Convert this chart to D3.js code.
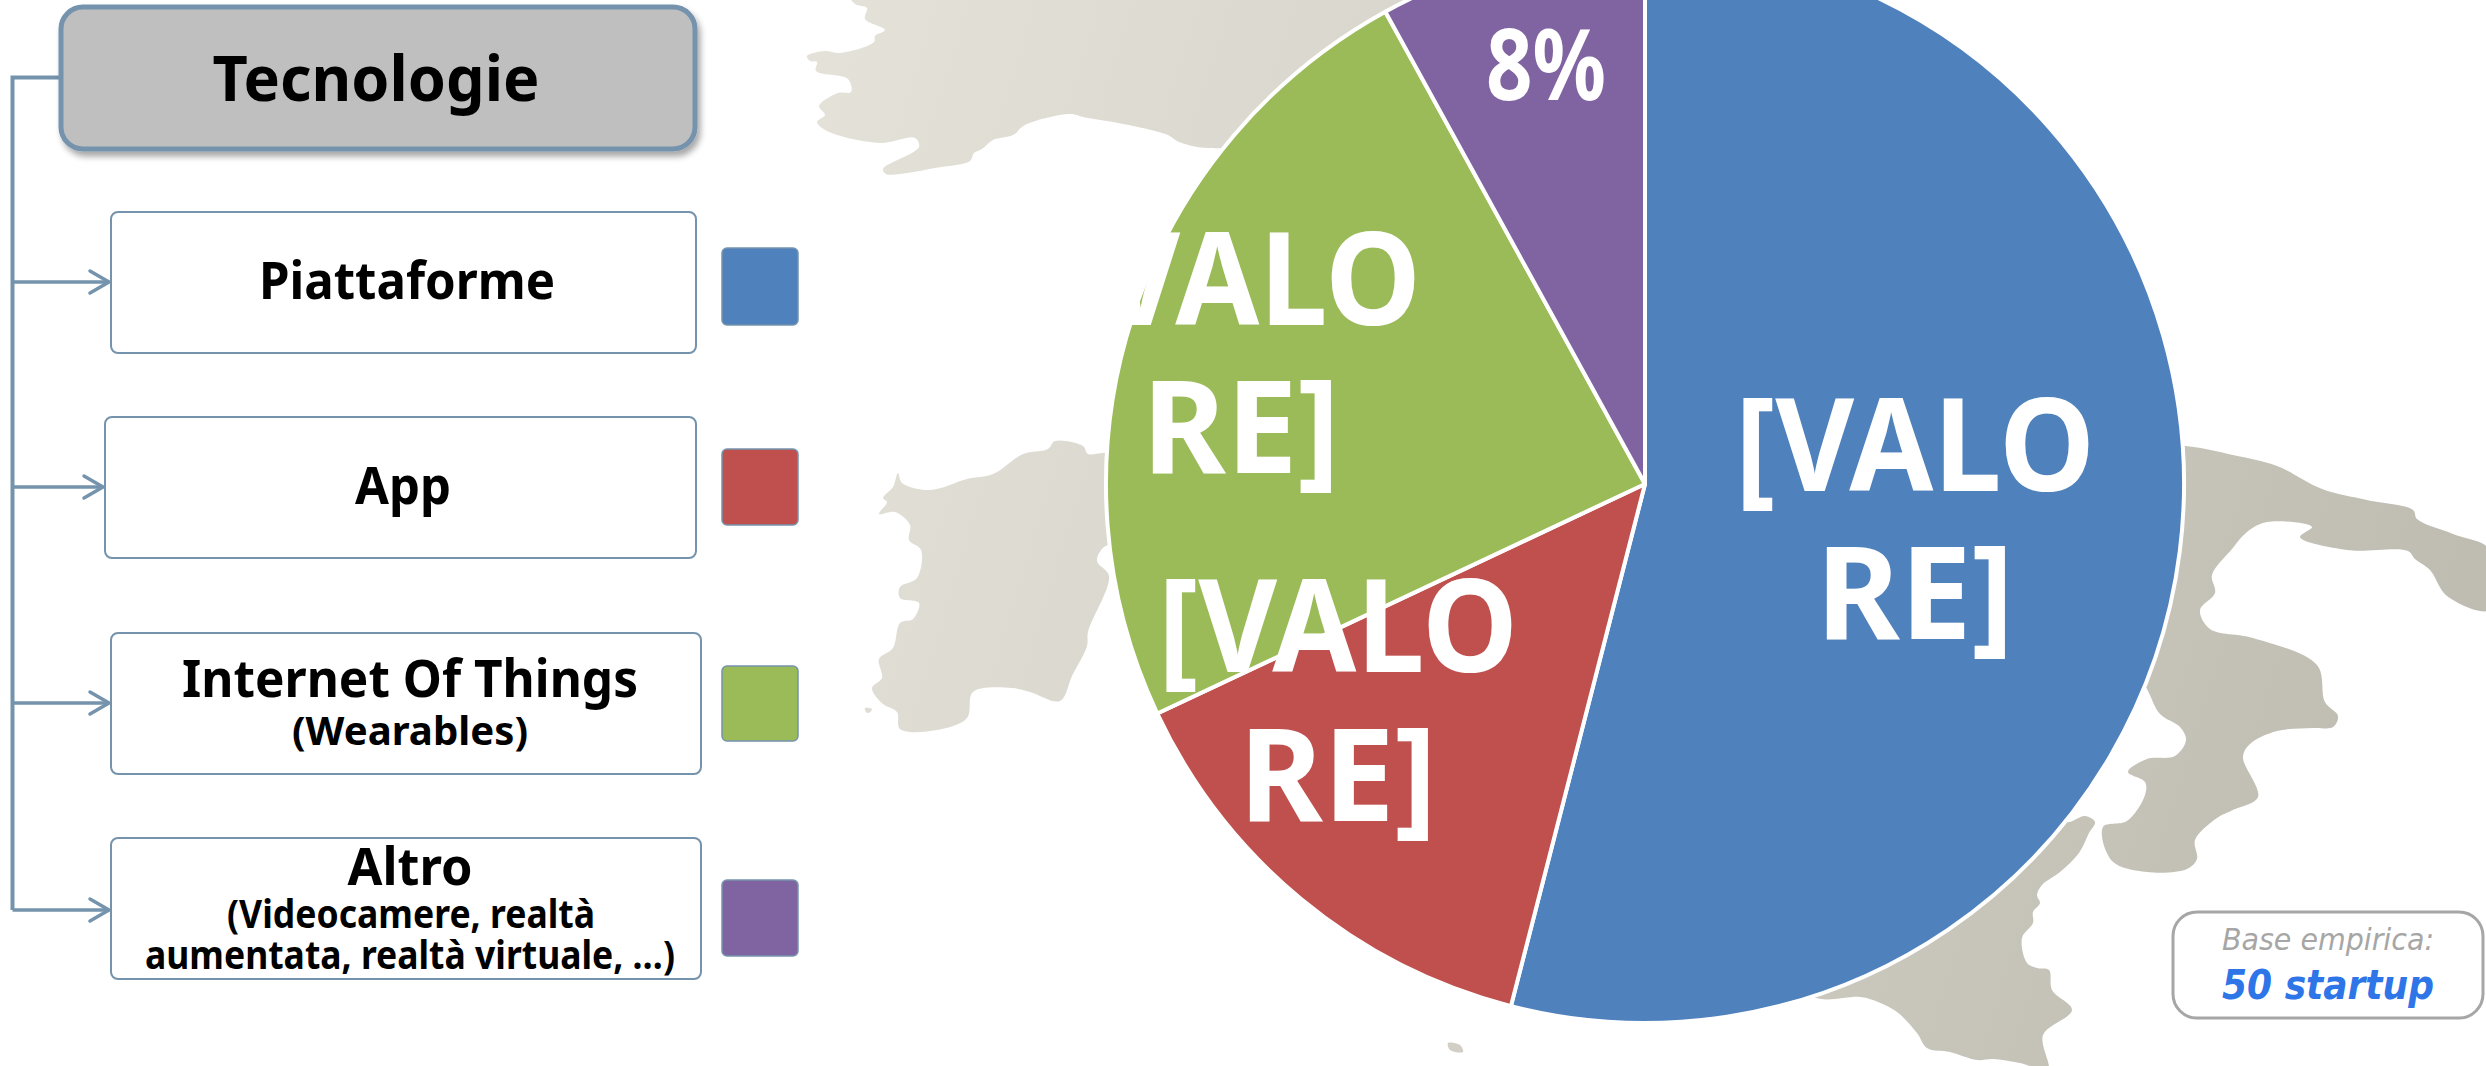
<!DOCTYPE html>
<html>
<head>
<meta charset="utf-8">
<script src="https://cdn.jsdelivr.net/npm/d3@7"></script>
<style>
    html, body { margin: 0; padding: 0; background: #fff; overflow: hidden; }
    svg { display: block; }
    text { font-family: "Noto Sans", sans-serif; }
</style>
</head>
<body>
<svg id="chart"></svg>
<script>
// valeurs du camembert
var categories = ["Piattaforme", "App", "Internet Of Things", "Altro"];
var values = [54, 14, 24, 8];
var colors = ["#4f81bd", "#c0504d", "#9bbb59", "#8064a2"];
var sliceLabels = [["[VALO", "RE]"], ["[VALO", "RE]"], ["[VALO", "RE]"], ["8%"]];
var title = "Tecnologie";
var subLabels = [[], [], ["(Wearables)"], ["(Videocamere, realtà", "aumentata, realtà virtuale, …)"]];

// fond de carte (contours)
var mapNorth = [[850,-5],[855,4],[867,8],[865,19],[885,30],[875,36],[874,42],[840,53],[825,51],[807,56],[810,61],[817,62],[816,71],[848,79],[851,92],[838,93],[819,106],[825,115],[817,122],[827,131],[880,143],[915,138],[919,147],[883,169],[886,174],[900,174],[935,168],[970,161],[974,153],[982,149],[993,140],[1013,135],[1025,125],[1070,114],[1083,117],[1118,123],[1133,126],[1168,135],[1177,141],[1197,147],[1212,148],[1222,148],[1400,100],[1400,-5]];
var mapSardinia = [[898,473],[902,483],[930,490],[967,479],[993,474],[1023,454],[1048,449],[1055,441],[1083,446],[1088,454],[1103,453],[1125,453],[1125,540],[1104,547],[1097,561],[1109,576],[1088,632],[1087,646],[1072,676],[1060,701],[1030,692],[1012,688],[973,692],[967,718],[937,730],[900,729],[897,712],[883,704],[872,688],[882,678],[879,659],[893,648],[900,623],[913,619],[919,603],[900,598],[900,587],[917,578],[921,550],[909,540],[910,525],[895,512],[879,514],[887,502],[883,498],[893,487]];
var mapSouth = [[2150,446],[2186,446],[2233,455],[2277,466],[2322,489],[2367,500],[2413,510],[2417,519],[2453,534],[2490,550],[2490,610],[2447,596],[2430,570],[2415,559],[2408,551],[2347,550],[2300,537],[2312,527],[2267,522],[2247,532],[2232,549],[2212,575],[2215,593],[2200,610],[2210,629],[2253,638],[2317,665],[2325,702],[2338,716],[2333,727],[2313,728],[2277,731],[2250,744],[2243,757],[2258,797],[2233,810],[2217,818],[2195,840],[2197,859],[2187,869],[2147,872],[2112,861],[2103,827],[2127,821],[2145,795],[2145,782],[2128,772],[2147,759],[2175,756],[2186,740],[2180,727],[2160,714],[2147,689],[2100,600]];
var mapSicily = [[2040,800],[2066,822],[2085,816],[2095,822],[2089,833],[2079,853],[2060,872],[2042,885],[2037,895],[2040,903],[2033,912],[2033,923],[2022,938],[2027,963],[2037,968],[2049,970],[2052,990],[2072,1010],[2043,1035],[2048,1070],[2020,1063],[1993,1059],[1977,1060],[1950,1052],[1927,1048],[1917,1033],[1897,1012],[1873,1000],[1860,997],[1813,997],[1780,960]];
var mapIslets = [[[1448,1043],[1460,1045],[1463,1052],[1450,1050]], [[865,708],[872,709],[869,713],[866,712]]];

// mise en page
var W = 2486, H = 1066;
var pieCenter = [1645, 484], pieRadius = 539;
var labelLayout = [
    {x: 1915, y: [491, 639], w: [360, 198], size: 130},
    {x: 1338, y: [672, 821], w: [360, 198], size: 130},
    {x: 1241, y: [325, 473], w: [360, 198], size: 130},
    {x: 1546, y: [100], w: [120], size: 98}
];
var boxes = [
    {x: 111, y: 212, x2: 696, y2: 353, arrow: 282, swatch: [248, 325]},
    {x: 105, y: 417, x2: 696, y2: 558, arrow: 487, swatch: [449, 525]},
    {x: 111, y: 633, x2: 701, y2: 774, arrow: 703, swatch: [666, 741]},
    {x: 111, y: 838, x2: 701, y2: 979, arrow: 910, swatch: [880, 956]}
];
var boxText = [
    {main: {x: 407, y: 299, w: 296}, sub: []},
    {main: {x: 403, y: 504, w: 96}, sub: []},
    {main: {x: 410, y: 697, w: 456}, sub: [{x: 410, y: 745, w: 236}]},
    {main: {x: 410, y: 885, w: 125}, sub: [{x: 411, y: 928, w: 368}, {x: 410, y: 969, w: 530}]}
];
var steel = "#7593ad";

var svg = d3.select("#chart").attr("width", W).attr("height", H);
var defs = svg.append("defs");

var grad = defs.append("linearGradient")
    .attr("id", "mapGrad")
    .attr("gradientUnits", "userSpaceOnUse")
    .attr("x1", 850).attr("y1", 0)
    .attr("x2", 2486).attr("y2", 500);
grad.append("stop").attr("offset", "0").attr("stop-color", "#e3e1d8");
grad.append("stop").attr("offset", "0.35").attr("stop-color", "#d8d6cc");
grad.append("stop").attr("offset", "1").attr("stop-color", "#bfbcb1");

var shadow = defs.append("filter").attr("id", "shadow")
    .attr("x", "-5%").attr("y", "-10%").attr("width", "110%").attr("height", "125%");
shadow.append("feDropShadow")
    .attr("dx", 3).attr("dy", 5).attr("stdDeviation", 3)
    .attr("flood-color", "#000").attr("flood-opacity", 0.35);

// carte
var line = d3.line().curve(d3.curveCatmullRomClosed.alpha(0.5));
svg.append("g").selectAll("path")
    .data([mapNorth, mapSardinia, mapSouth, mapSicily].concat(mapIslets))
    .enter().append("path")
    .attr("d", line)
    .attr("fill", "url(#mapGrad)");

// camembert
var pie = d3.pie().sort(null).value(function(d) { return d; });
var arc = d3.arc().innerRadius(0).outerRadius(pieRadius);
var color = d3.scaleOrdinal().domain(categories).range(colors);

var gPie = svg.append("g")
    .attr("transform", "translate(" + pieCenter[0] + "," + pieCenter[1] + ")");
gPie.selectAll("path")
    .data(pie(values))
    .enter().append("path")
    .attr("d", arc)
    .attr("fill", function(d, i) { return color(categories[i]); })
    .attr("stroke", "#fff")
    .attr("stroke-width", 4)
    .attr("stroke-linejoin", "round");

// étiquettes du camembert
function fitText(parent, str, x, y, w, size, weight, fill, style) {
    return parent.append("text")
        .attr("x", x)
        .attr("y", y)
        .attr("text-anchor", "middle")
        .attr("textLength", w)
        .attr("lengthAdjust", "spacingAndGlyphs")
        .attr("font-size", size)
        .attr("font-weight", weight)
        .attr("font-style", style || "normal")
        .attr("fill", fill)
        .text(str);
}

sliceLabels.forEach(function(lines, i) {
    var l = labelLayout[i];
    lines.forEach(function(s, j) {
        fitText(svg, s, l.x, l.y[j], l.w[j], l.size, 700, "#fff");
    });
});

// arbre de gauche
var tree = svg.append("g").attr("fill", "none").attr("stroke", steel);
tree.append("path")
    .attr("d", "M60,77.5H12.5V" + boxes[3].arrow)
    .attr("stroke-width", 4);

boxes.forEach(function(b) {
    tree.append("line")
        .attr("x1", 12.5).attr("x2", b.x - 2)
        .attr("y1", b.arrow).attr("y2", b.arrow)
        .attr("stroke-width", 3.5);
    tree.append("path")
        .attr("d", "M" + (b.x - 21) + "," + (b.arrow - 11) + "L" + (b.x - 2) + "," + b.arrow + "L" + (b.x - 21) + "," + (b.arrow + 11))
        .attr("stroke-width", 3.5)
        .attr("stroke-linecap", "round");
});

// titre
svg.append("rect")
    .attr("x", 61).attr("y", 7)
    .attr("width", 634).attr("height", 142)
    .attr("rx", 22)
    .attr("fill", "#bfbfbf")
    .attr("stroke", steel)
    .attr("stroke-width", 5)
    .attr("filter", "url(#shadow)");
fitText(svg, title, 376, 101, 327, 62, 700, "#000");

// cases et légende
boxes.forEach(function(b, i) {
    svg.append("rect")
        .attr("x", b.x).attr("y", b.y)
        .attr("width", b.x2 - b.x).attr("height", b.y2 - b.y)
        .attr("rx", 7)
        .attr("fill", "#fff")
        .attr("stroke", steel)
        .attr("stroke-width", 2);
    svg.append("rect")
        .attr("x", 722).attr("y", b.swatch[0])
        .attr("width", 76).attr("height", b.swatch[1] - b.swatch[0])
        .attr("rx", 5)
        .attr("fill", colors[i])
        .attr("stroke", steel)
        .attr("stroke-width", 1.5);
    var t = boxText[i];
    fitText(svg, categories[i], t.main.x, t.main.y, t.main.w, 52, 700, "#000");
    subLabels[i].forEach(function(s, j) {
        fitText(svg, s, t.sub[j].x, t.sub[j].y, t.sub[j].w, 39, 700, "#000");
    });
});

// base empirique
svg.append("rect")
    .attr("x", 2173).attr("y", 912)
    .attr("width", 310).attr("height", 106)
    .attr("rx", 24)
    .attr("fill", "#fff")
    .attr("stroke", "#a6a6a6")
    .attr("stroke-width", 3);
fitText(svg, "Base empirica:", 2328, 950, 212, 30, 400, "#a6a6a6", "italic").style("font-family", "'DejaVu Sans'");
fitText(svg, "50 startup", 2328, 999, 212, 40, 700, "#2e75e8", "italic").style("font-family", "'DejaVu Sans'");
</script>
</body>
</html>
